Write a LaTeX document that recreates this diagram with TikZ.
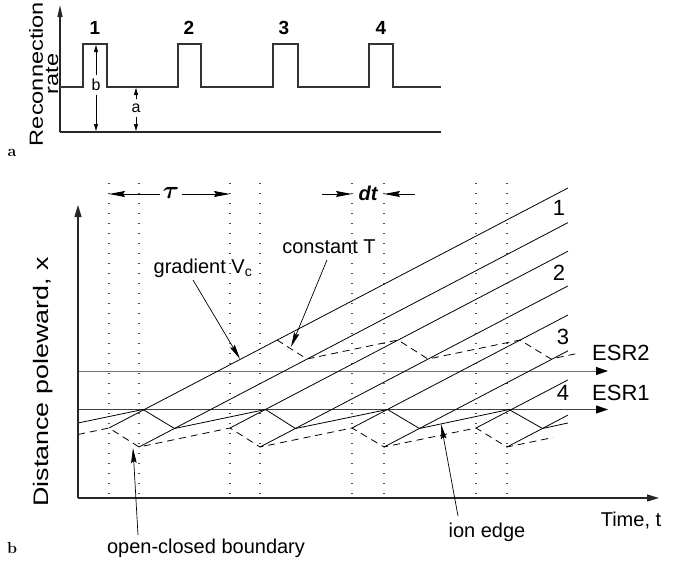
\documentclass[tikz,border=0pt]{standalone}
\usepackage{fontspec}
\usepackage{amsmath,bm}
\usetikzlibrary{arrows.meta}
\newfontfamily\hv{Liberation Sans}
\tikzset{
  lbl/.style={font=\hv\fontsize{20}{24}\selectfont, inner sep=0pt},
  biglbl/.style={font=\hv\fontsize{22}{26}\selectfont, inner sep=0pt},
  numa/.style={font=\hv\bfseries\fontsize{19}{22}\selectfont, inner sep=0pt},
  panel/.style={font=\bfseries\fontsize{16}{18}\selectfont, inner sep=0pt},
  rotlbl/.style={rotate=90, font=\hv\fontsize{19}{22}\selectfont, inner sep=0pt},
  axline/.style={line width=1.3pt, black!85},
  sig/.style={line width=1.3pt, black!80},
  curve/.style={line width=0.8pt},
  bnd/.style={line width=0.8pt, dash pattern=on 7pt off 5pt},
  dotv/.style={line width=1.1pt, black!70, dash pattern=on 1pt off 9pt},
  esr/.style={line width=1pt, black!55, -{Triangle[length=12pt,width=8pt,black]}},
  axarrow/.style={axline, -{Triangle[length=12pt,width=7pt]}},
  ann/.style={line width=0.7pt, -{Stealth[length=15pt,width=5.5pt,inset=2pt]}},
  dim/.style={line width=0.7pt, -{Triangle[length=7pt,width=4pt]}},
  span/.style={line width=1pt, -{Stealth[length=16pt,width=6pt,inset=2pt]}}
}
\begin{document}
\begin{tikzpicture}[x=1pt,y=1pt]
\useasboundingbox (0,0) rectangle (673,-562);

% ---------------- panel a ----------------
\coordinate (a0) at (60,-132);
\coordinate (atop) at (60,-5);
\coordinate (aend) at (441,-132);
\draw[axline, -{Triangle[length=12pt,width=5pt]}] (a0) -- (atop);
\draw[axline] (a0) -- (aend);
\draw[sig] (60,-87) -- (83,-87) -- (83,-44) -- (107,-44) -- (107,-87)
  -- (178,-87) -- (178,-44) -- (201,-44) -- (201,-87)
  -- (273,-87) -- (273,-44) -- (298,-44) -- (298,-87)
  -- (369,-87) -- (369,-44) -- (393,-44) -- (393,-87) -- (441,-87);
\node[numa] (n1) at (95,-28) {1};
\node[numa] (n2) at (189,-28) {2};
\node[numa] (n3) at (284,-28) {3};
\node[numa] (n4) at (381,-28) {4};
\node[font=\hv\fontsize{16}{18}\selectfont, inner sep=4pt] (lb) at (96,-85) {b};
\coordinate (bt) at (96,-45);
\coordinate (bb) at (96,-131);
\draw[dim] (lb) -- (bt);
\draw[dim] (lb) -- (bb);
\node[font=\hv\fontsize{16}{18}\selectfont, inner sep=4pt] (la) at (136,-108) {a};
\coordinate (at) at (136,-88);
\coordinate (ab) at (136,-131);
\draw[dim] (la) -- (at);
\draw[dim] (la) -- (ab);
\node[rotlbl] (rr1) at (36,-74) {\scalebox{1.24}[1]{Reconnection}};
\node[rotlbl] (rr2) at (52,-74) {\scalebox{1.24}[1]{rate}};
\node[panel] (pa) at (12,-153) {a};

% ---------------- panel b ----------------
\node[panel] (pb) at (12,-548) {b};
\coordinate (o) at (78,-498);
\coordinate (yt) at (78,-205);
\coordinate (xt) at (659,-498);

% dotted verticals
\foreach \x in {109,139,230,260,352,384,476,507}
  \draw[dotv] (\x,-183) -- (\x,-498);

% ESR lines
\coordinate (e2s) at (78,-371);
\coordinate (e2e) at (608,-371);
\coordinate (e1s) at (78,-409.5);
\coordinate (e1e) at (608,-409.5);
\draw[esr] (e2s) -- (e2e);
\draw[esr, black!75] (e1s) -- (e1e);
\node[biglbl, anchor=west] (esr2) at (592,-353) {ESR2};
\node[biglbl, anchor=west] (esr1) at (592,-393) {ESR1};

% boundary points
\coordinate (B0) at (78,-434.5);
\coordinate (P1) at (109,-428);
\coordinate (T1) at (139,-447);
\coordinate (P2) at (230,-428);
\coordinate (T2) at (260,-447);
\coordinate (P3) at (352,-428);
\coordinate (T3) at (384,-447);
\coordinate (P4) at (476,-428);
\coordinate (T4) at (507,-447);
\coordinate (Bend) at (553,-437.5);
\draw[bnd] (B0) -- (P1) -- (T1) -- (P2) -- (T2) -- (P3) -- (T3) -- (P4) -- (T4) -- (Bend);

% ion edge
\coordinate (I0) at (78,-423);
\coordinate (I1) at (143,-409.5);
\coordinate (J1) at (174.5,-428.5);
\coordinate (I2) at (265.5,-409.5);
\coordinate (J2) at (295.5,-428.5);
\coordinate (I3) at (387.5,-409.5);
\coordinate (J3) at (419.5,-428.5);
\coordinate (I4) at (509,-409.5);
\coordinate (J4) at (542.5,-428.5);
\coordinate (Iend) at (568,-423);
\draw[curve] (I0) -- (I1) -- (J1) -- (I2) -- (J2) -- (I3) -- (J3) -- (I4) -- (J4) -- (Iend);

% constant T curve
\coordinate (C1) at (277,-340);
\coordinate (D1) at (307,-359);
\coordinate (C2) at (398,-340);
\coordinate (D2) at (428,-359);
\coordinate (C3) at (520,-340);
\coordinate (D3) at (551,-359);
\coordinate (Cend) at (577,-353.5);
\draw[bnd] (C1) -- (D1) -- (C2) -- (D2) -- (C3) -- (D3) -- (Cend);

% sloped field lines (gradient Vc)
\coordinate (E1u) at (568,-188);
\coordinate (E1l) at (568,-222.6);
\coordinate (E2u) at (568,-251.2);
\coordinate (E2l) at (568,-285.9);
\coordinate (E3u) at (568,-315);
\coordinate (E3l) at (568,-350.8);
\coordinate (E4u) at (568,-379.9);
\coordinate (E4l) at (568,-415.1);
\draw[curve] (P1) -- (E1u);
\draw[curve] (T1) -- (E1l);
\draw[curve] (P2) -- (E2u);
\draw[curve] (T2) -- (E2l);
\draw[curve] (P3) -- (E3u);
\draw[curve] (T3) -- (E3l);
\draw[curve] (P4) -- (E4u);
\draw[curve] (T4) -- (E4l);
\node[biglbl] (l1) at (559,-208) {1};
\node[biglbl] (l2) at (559,-273) {2};
\node[biglbl] (l3) at (563,-337) {3};
\node[biglbl] (l4) at (563,-393) {4};

% axes
\draw[axarrow] (o) -- (yt);
\draw[axarrow] (o) -- (xt);
\node[rotate=90, font=\hv\fontsize{21}{24}\selectfont, inner sep=0pt] (ylab) at (43,-382)
  {\scalebox{1.28}[1]{Distance poleward, x}};
\node[lbl] (xlab) at (631,-521) {Time, t};

% tau and dt
\node[inner sep=3pt, font=\fontsize{30}{32}\selectfont] (tau) at (171,-193) {$\bm{\tau}$};
\coordinate (tl) at (109,-194);
\coordinate (tr) at (230,-194);
\draw[span] (tau.west |- tl) -- (tl);
\draw[span] (tau.east |- tr) -- (tr);
\node[inner sep=0pt, font=\hv\bfseries\itshape\fontsize{20}{24}\selectfont] (dt) at (368,-193) {dt};
\coordinate (dl0) at (322,-194);
\coordinate (dl) at (352,-194);
\coordinate (dr0) at (415,-194);
\coordinate (dr) at (384,-194);
\draw[span] (dl0) -- (dl);
\draw[span] (dr0) -- (dr);

% annotations
\node[lbl] (gv) at (203,-268) {gradient V\textsubscript{c}};
\coordinate (gvt) at (240,-359);
\draw[ann] (193,-280) -- (gvt);
\node[lbl] (ct) at (329,-247) {constant T};
\coordinate (ctt) at (291,-347);
\draw[ann] (327,-260) -- (ctt);
\node[lbl] (ocb) at (206,-548) {open-closed boundary};
\coordinate (ocbt) at (133,-448);
\draw[ann] (138,-535) -- (ocbt);
\node[lbl] (ie) at (487,-532) {ion edge};
\coordinate (iet) at (441,-424);
\draw[ann] (458,-516) -- (iet);
\end{tikzpicture}
\end{document}
